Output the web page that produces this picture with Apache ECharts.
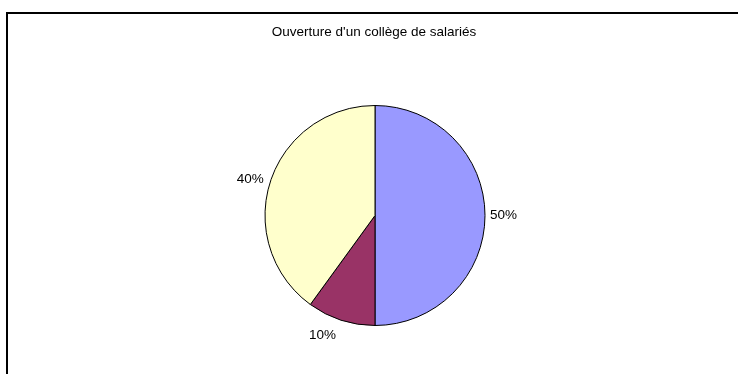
<!DOCTYPE html>
<html>
<head>
<meta charset="utf-8">
<script src="https://cdn.jsdelivr.net/npm/echarts@6/dist/echarts.min.js"></script>
<style>
  html, body { margin: 0; padding: 0; background: #fff; }
  #wrap { position: relative; width: 738px; height: 374px; overflow: hidden; }
  #chart { position: absolute; left: 0; top: 0; width: 738px; height: 374px; }
  #frame { position: absolute; left: 6px; top: 12px; width: 800px; height: 400px;
           border-left: 2px solid #000; border-top: 2px solid #000; pointer-events: none; }
</style>
</head>
<body>
<div id="wrap">
  <div id="chart"></div>
  <div id="frame"></div>
</div>
<script>
const titleText = "Ouverture d'un collège de salariés";
const categories = ['A', 'B', 'C'];
const values = [50, 10, 40];
const colors = ['#9999FF', '#993366', '#FFFFCC'];
const labelGap = [5, 16, 7];

const chart = echarts.init(document.getElementById('chart'), null, { renderer: 'canvas' });
const font = "'Liberation Sans', Arial, sans-serif";
chart.setOption({
  animation: false,
  title: {
    text: titleText,
    left: 369,
    textAlign: 'center',
    top: 20,
    textStyle: { fontFamily: font, fontSize: 13.5, fontWeight: 'normal', color: '#000' }
  },
  series: [{
    type: 'pie',
    center: [375, 215.5],
    radius: 110,
    startAngle: 90,
    clockwise: true,
    silent: true,
    emphasis: { disabled: true },
    data: categories.map((c, i) => ({
      name: c, value: values[i],
      itemStyle: { color: colors[i] },
      labelLine: { length: labelGap[i], length2: 0 }
    })),
    itemStyle: { borderColor: '#000', borderWidth: 1 },
    label: {
      show: true,
      position: 'outside',
      formatter: p => p.value + '%',
      fontFamily: font,
      fontSize: 13.5,
      color: '#000',
      distanceToLabelLine: 0
    },
    labelLine: { show: false, length: 10, length2: 0 }
  }]
});
</script>
</body>
</html>
